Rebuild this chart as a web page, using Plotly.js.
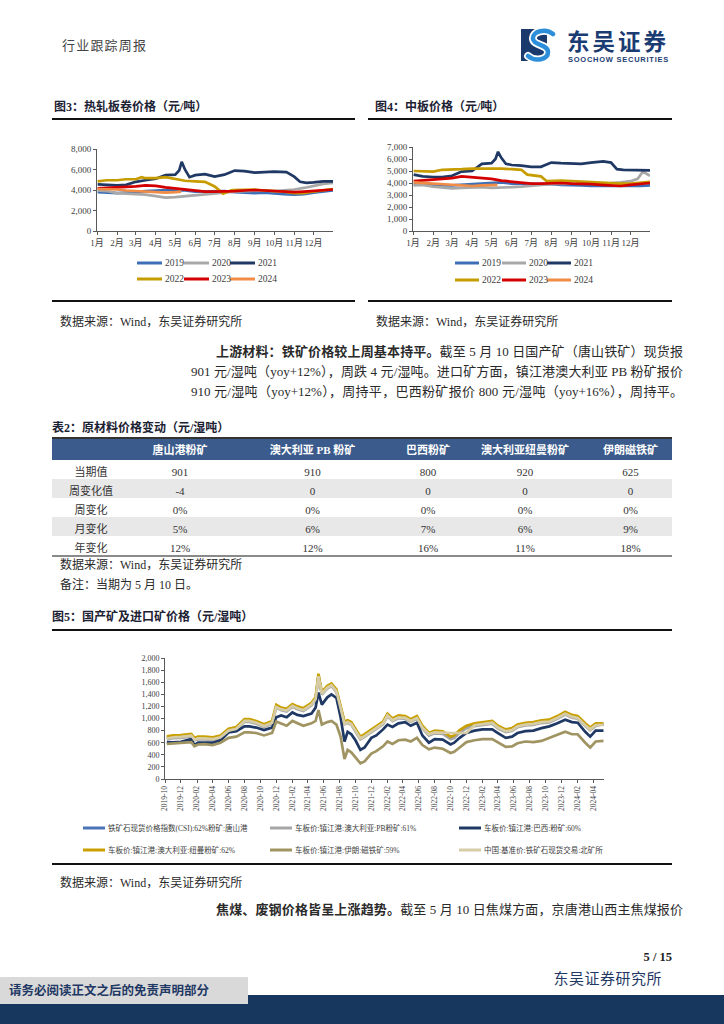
<!DOCTYPE html>
<html>
<head>
<meta charset="utf-8">
<script src="https://cdn.plot.ly/plotly-3.0.1.min.js"></script>
<style>
  body { margin: 0; background: #fff; }
  #page { position: relative; width: 724px; height: 1024px; overflow: hidden; background: #fff;
          font-family: "Liberation Serif", "Noto Sans CJK SC", serif; color: #2a2a2a; }
  #plot { position: absolute; left: 0; top: 0; width: 724px; height: 1024px; }
  .t { position: absolute; white-space: nowrap; line-height: 1; }
  .b { font-weight: 700; }
  .hl { position: absolute; }
  .para { position: absolute; line-height: 1; white-space: nowrap; text-align: justify; text-align-last: justify; font-size: 13px; color: #2a2a2a; }
</style>
</head>
<body>
<div id="page">
  <div id="plot"></div>

  <!-- header -->
  <div class="t" style="left:62px;top:39px;font-size:13px;color:#444;letter-spacing:1.2px;">行业跟踪周报</div>
  <svg style="position:absolute;left:519px;top:27px;" width="46" height="36" viewBox="0 0 46 36">
    <rect x="2" y="2" width="26" height="32" fill="#1a3a6e"/>
    <path d="M34 7 C 27 1, 13 4, 14 12 C 15 19, 29 17, 29 25 C 29 33, 16 35, 9 29" stroke="#ffffff" stroke-width="8" fill="none" stroke-linecap="round"/>
    <path d="M34 7 C 27 1, 13 4, 14 12 C 15 19, 29 17, 29 25 C 29 33, 16 35, 9 29" stroke="#2d8fd9" stroke-width="4.5" fill="none" stroke-linecap="round"/>
  </svg>
  <div class="t b" style="left:567px;top:29px;font-size:22.5px;color:#1b3c73;letter-spacing:3px;font-family:'Noto Sans CJK SC',sans-serif;">东吴证券</div>
  <div class="t b" style="left:568px;top:56px;font-size:7.5px;color:#1b3c73;letter-spacing:0.75px;font-family:'Liberation Sans',sans-serif;">SOOCHOW SECURITIES</div>

  <!-- figure 3 / 4 titles -->
  <div class="t b" style="left:54px;top:101px;font-size:12px;color:#1c2233;">图3：热轧板卷价格（元/吨）</div>
  <div class="hl" style="left:52px;top:118px;width:303px;height:1.5px;background:#111;"></div>
  <div class="t b" style="left:375px;top:101px;font-size:12px;color:#1c2233;">图4：中板价格（元/吨）</div>
  <div class="hl" style="left:368px;top:118px;width:304px;height:1.5px;background:#111;"></div>

  <div class="hl" style="left:52px;top:300px;width:303px;height:1.5px;background:#111;"></div>
  <div class="hl" style="left:368px;top:300px;width:304px;height:1.5px;background:#111;"></div>
  <div class="t" style="left:60px;top:316px;font-size:12px;">数据来源：Wind，东吴证券研究所</div>
  <div class="t" style="left:376px;top:316px;font-size:12px;">数据来源：Wind，东吴证券研究所</div>

  <!-- paragraph -->
  <div class="para" style="left:216px;top:345px;width:467px;"><b>上游材料：铁矿价格较上周基本持平。</b>截至 5 月 10 日国产矿（唐山铁矿）现货报</div>
  <div class="para" style="left:191px;top:365px;width:492px;">901 元/湿吨（yoy+12%），周跌 4 元/湿吨。进口矿方面，镇江港澳大利亚 PB 粉矿报价</div>
  <div class="para" style="left:191px;top:385px;width:492px;">910 元/湿吨（yoy+12%），周持平，巴西粉矿报价 800 元/湿吨（yoy+16%），周持平。</div>

  <!-- table -->
  <div class="t b" style="left:52px;top:422px;font-size:12px;color:#1c2233;">表2：原材料价格变动（元/湿吨）</div>
  <div class="hl" style="left:52px;top:437px;width:620px;height:1.5px;background:#333;"></div>
  <div class="hl" style="left:52px;top:555px;width:620px;height:1.5px;background:#8a8a8a;"></div>
  <div class="t" style="left:60px;top:559px;font-size:12px;">数据来源：Wind，东吴证券研究所</div>
  <div class="t" style="left:60px;top:579px;font-size:12px;">备注：当期为 5 月 10 日。</div>

  <!-- figure 5 -->
  <div class="t b" style="left:52px;top:611px;font-size:12px;color:#1c2233;">图5：国产矿及进口矿价格（元/湿吨）</div>
  <div class="hl" style="left:52px;top:629px;width:620px;height:1.5px;background:#111;"></div>
  <div class="hl" style="left:52px;top:863px;width:620px;height:2px;background:#111;"></div>
  <div class="t" style="left:60px;top:877px;font-size:12px;">数据来源：Wind，东吴证券研究所</div>
  <div class="para" style="left:216px;top:903px;width:467px;"><b>焦煤、废钢价格皆呈上涨趋势。</b>截至 5 月 10 日焦煤方面，京唐港山西主焦煤报价</div>

  <!-- footer -->
  <div class="t b" style="right:52px;top:951px;font-size:12.5px;color:#222;">5 / 15</div>
  <div class="t" style="right:62px;top:972px;font-size:15px;color:#1f3864;letter-spacing:0.5px;">东吴证券研究所</div>
  <div class="hl" style="left:0;top:995px;width:724px;height:29px;background:#17375e;"></div>
  <div class="hl" style="left:0;top:977px;width:248px;height:27px;background:#d9d9d9;"></div>
  <div class="t b" style="left:9px;top:985px;font-size:12.5px;color:#1f3864;">请务必阅读正文之后的免责声明部分</div>
</div>

<script>
// ---------------- data: Fig 3 / Fig 4 ----------------
const monthLabels = ['1月','2月','3月','4月','5月','6月','7月','8月','9月','10月','11月','12月'];
const yearNames = ['2019','2020','2021','2022','2023','2024'];

const semiMonth = ['01-02','01-16','02-01','02-15','03-01','03-16','04-01','04-16','05-01','05-16','06-01','06-16','07-01','07-16','08-01','08-16','09-01','09-16','10-01','10-16','11-01','11-16','12-01','12-16','12-31'];
const dates2021 = ['01-02','01-16','02-01','02-15','03-01','03-16','04-01','04-16','05-01','05-07','05-11','05-16','05-23','06-01','06-16','07-01','07-16','08-01','08-16','09-01','09-16','10-01','10-20','11-01','11-10','11-20','12-01','12-16','12-31'];
const dates2024 = ['01-02','01-16','02-01','02-15','03-01','03-16','04-01','04-16','05-01','05-10'];

// hot-rolled coil (元/吨)
const hrcDates2022 = ['01-02','01-16','02-01','02-15','03-01','03-10','03-16','04-01','04-16','05-01','05-16','06-01','06-16','07-01','07-14','07-28','08-16','09-01','09-16','10-01','10-16','11-01','11-16','12-01','12-16','12-31'];
const hrc2019 = [3800,3750,3700,3750,3850,3900,3950,4000,3950,3950,3850,3850,3850,3900,3800,3750,3700,3750,3650,3600,3550,3600,3750,3850,3950];
const hrc2020 = [3950,3900,3700,3650,3600,3550,3400,3250,3300,3400,3500,3600,3700,3800,3850,3900,3950,3950,3900,3950,4050,4200,4400,4600,4700];
const hrc2021 = [4550,4500,4450,4500,4800,4950,5100,5450,5500,5900,6750,6000,5250,5450,5550,5300,5500,5900,5850,5700,5750,5800,5750,5300,4800,4700,4750,4850,4850];
const hrc2022 = [4850,4950,4950,5050,5050,5250,5150,5150,5250,5100,4900,4850,4800,4350,3650,4000,4000,4050,3950,3900,3850,3700,3700,3850,3950,4100];
const hrc2023 = [4150,4200,4200,4250,4350,4450,4400,4250,4150,4000,3950,3850,3850,3850,3900,3950,4000,3950,3900,3850,3800,3850,3900,4000,4050];
const hrc2024 = [4100,4100,4050,3950,3900,3850,3750,3750,3800,3850];

// medium plate (元/吨)
const plateDates2020 = ['01-02','01-16','02-01','02-15','03-01','03-16','04-01','04-16','05-01','05-16','06-01','06-16','07-01','07-16','08-01','08-16','09-01','09-16','10-01','10-16','11-01','11-16','12-01','12-12','12-20','12-31'];
const plateDates2022 = ['01-02','01-16','02-01','02-15','03-01','03-16','04-01','04-16','05-01','05-16','06-01','06-16','06-25','07-05','07-16','07-25','08-16','09-01','09-16','10-01','10-16','11-01','11-16','12-01','12-16','12-31'];
const plate2019 = [3900,3850,3850,3800,3800,3850,3900,4000,4050,4050,3950,3950,3900,3900,3900,3850,3850,3800,3750,3750,3700,3700,3700,3750,3800];
const plate2020 = [3800,3850,3700,3600,3550,3600,3650,3650,3600,3600,3650,3700,3800,3850,3900,3950,3950,3950,3950,3950,4000,4050,4150,4350,4950,4600];
const plate2021 = [4700,4550,4500,4500,4600,4950,5000,5600,5650,6000,6600,6100,5600,5500,5450,5350,5350,5700,5650,5600,5600,5700,5800,5700,5150,5100,5100,5050,5050];
const plate2022 = [5000,4950,4950,5100,5100,5150,5200,5200,5250,5200,5150,5100,4700,4650,4550,4150,4200,4150,4100,4050,4050,4000,3950,3950,4050,4100];
const plate2023 = [4150,4200,4250,4350,4400,4550,4500,4400,4350,4200,4100,4000,3950,3950,4000,4000,3950,3950,3900,3850,3800,3750,3850,3950,4000];
const plate2024 = [4050,4000,3950,3900,3850,3800,3750,3800,3800,3850];

// ---------------- data: Table 2 ----------------
const tableColumns = ['唐山港粉矿','澳大利亚 PB 粉矿','巴西粉矿','澳大利亚纽曼粉矿','伊朗磁铁矿'];
const tableRows = ['当期值','周变化值','周变化','月变化','年变化'];
const colTangshan = ['901','-4','0%','5%','12%'];
const colPB = ['910','0','0%','6%','12%'];
const colBrazil = ['800','0','0%','7%','16%'];
const colNewman = ['920','0','0%','6%','11%'];
const colIran = ['625','0','0%','9%','18%'];

// ---------------- data: Fig 5 (元/湿吨) ----------------
const fig5Names = ['铁矿石现货价格指数(CSI):62%粉矿:唐山港','车板价:镇江港:澳大利亚:PB粉矿:61%','车板价:镇江港:巴西:粉矿:60%',
                   '车板价:镇江港:澳大利亚:纽曼粉矿:62%','车板价:镇江港:伊朗:磁铁矿:59%','中国:基准价:铁矿石现货交易:北矿所'];
const fig5TickLabels = ['2019-10','2019-12','2020-02','2020-04','2020-06','2020-08','2020-10','2020-12','2021-02','2021-04','2021-06','2021-08','2021-10','2021-12',
                        '2022-02','2022-04','2022-06','2022-08','2022-10','2022-12','2023-02','2023-04','2023-06','2023-08','2023-10','2023-12','2024-02','2024-04'];
const fig5Dates = ['2019-10-08','2019-11-01','2019-12-01','2020-01-10','2020-01-22','2020-02-05','2020-03-01','2020-04-01','2020-05-01','2020-06-01',
  '2020-07-01','2020-08-01','2020-08-20','2020-09-15','2020-10-15','2020-11-15','2020-12-01','2020-12-20','2021-01-10','2021-02-01',
  '2021-02-20','2021-03-15','2021-04-15','2021-05-01','2021-05-12','2021-05-25','2021-06-15','2021-07-01','2021-07-20','2021-08-05',
  '2021-08-20','2021-09-01','2021-09-15','2021-10-01','2021-10-20','2021-11-05','2021-12-01','2021-12-20','2022-01-15','2022-02-01',
  '2022-02-20','2022-03-15','2022-04-10','2022-05-01','2022-05-25','2022-06-15','2022-07-10','2022-08-01','2022-09-01','2022-10-01',
  '2022-10-15','2022-11-05','2022-12-01','2023-01-01','2023-02-01','2023-03-10','2023-04-01','2023-05-01','2023-05-25','2023-06-15',
  '2023-07-15','2023-08-15','2023-09-15','2023-10-15','2023-11-15','2023-12-15','2024-01-10','2024-02-01','2024-03-01','2024-03-20',
  '2024-04-10','2024-05-10'];
const csiTangshan = [680,695,700,720,655,675,675,665,695,805,835,965,965,935,880,935,1200,1155,1135,1215,1175,1145,1235,1325,1710,1415,1515,1555,1455,1155,
  925,945,915,805,675,715,795,855,925,1055,975,1025,1015,965,1015,855,735,775,765,675,695,785,855,895,915,935,855,795,815,875,
  905,915,945,955,1015,1085,1035,1015,895,825,895,901];
const pbFines = [660,675,680,700,640,655,655,645,675,785,815,945,945,915,860,915,1180,1135,1115,1195,1155,1125,1215,1305,1690,1395,1495,1535,1435,1135,
  905,925,895,785,655,695,775,835,905,1035,955,1005,995,945,995,835,715,755,745,655,675,765,835,875,895,915,835,775,795,855,
  885,895,925,935,995,1065,1015,995,875,805,875,910];
const brazilFines = [610,605,615,660,560,600,600,600,640,770,790,870,870,850,810,850,1020,1050,1020,1100,1060,1040,1080,1180,1430,1230,1350,1400,1340,1020,
  620,780,740,640,480,520,680,720,820,900,860,920,940,880,930,720,600,660,650,570,600,680,760,800,820,820,760,680,700,760,
  790,800,840,870,920,980,940,930,780,700,800,800];
const newmanFines = [705,720,725,745,680,700,700,690,720,830,860,990,990,960,905,960,1225,1180,1160,1240,1200,1170,1260,1350,1740,1440,1540,1580,1480,1180,
  950,970,940,830,700,740,820,880,950,1080,1000,1050,1040,990,1040,880,760,800,790,700,720,810,880,920,940,960,880,820,840,900,
  930,940,970,980,1040,1110,1060,1040,920,850,920,920];
const iranMagnetite = [580,585,590,610,540,570,575,560,600,680,700,770,770,760,720,760,950,920,880,960,920,880,920,960,1140,900,940,960,900,700,
  330,480,440,360,260,290,420,460,540,620,580,640,650,620,680,560,490,520,500,430,450,520,610,640,660,660,600,530,540,590,
  620,610,630,680,720,780,740,740,600,520,620,630];
const bksBenchmark = [670,690,695,715,650,670,670,660,690,800,830,960,960,930,875,930,1190,1150,1130,1210,1170,1140,1230,1320,1700,1410,1510,1550,1450,1150,
  910,940,910,800,670,710,790,850,920,1050,970,1020,1010,960,1010,850,740,770,760,760,760,760,760,890,910,930,850,790,810,870,
  900,910,940,950,1010,1080,1030,1010,890,820,890,895];

// ---------------- styles ----------------
const W = 724, H = 1024;
const FONT = '"Liberation Serif", "Noto Sans CJK SC", serif';
const yearColors = ['#3d6fb6', '#a8a8a8', '#1f3864', '#c79c00', '#d40000', '#f08c45'];
const fig5Colors = ['#4a74b8', '#a6a6a6', '#1f3864', '#c9a000', '#a09462', '#d6cda6'];
const px = v => v / W;
const py = v => 1 - v / H;

const hrcSeries = [[semiMonth,hrc2019],[semiMonth,hrc2020],[dates2021,hrc2021],[hrcDates2022,hrc2022],[semiMonth,hrc2023],[dates2024,hrc2024]];
const plateSeries = [[semiMonth,plate2019],[plateDates2020,plate2020],[dates2021,plate2021],[plateDates2022,plate2022],[semiMonth,plate2023],[dates2024,plate2024]];
const fig5Series = [csiTangshan, pbFines, brazilFines, newmanFines, iranMagnetite, bksBenchmark];

const traces = [];
hrcSeries.forEach((s, i) => traces.push({
  type: 'scatter', mode: 'lines', x: s[0].map(d => '2000-' + d), y: s[1], xaxis: 'x', yaxis: 'y',
  line: { color: yearColors[i], width: 2.7 }, name: yearNames[i], showlegend: false, hoverinfo: 'skip'
}));
plateSeries.forEach((s, i) => traces.push({
  type: 'scatter', mode: 'lines', x: s[0].map(d => '2000-' + d), y: s[1], xaxis: 'x2', yaxis: 'y2',
  line: { color: yearColors[i], width: 2.7 }, name: yearNames[i], showlegend: false, hoverinfo: 'skip'
}));
fig5Series.forEach((s, i) => traces.push({
  type: 'scatter', mode: 'lines', x: fig5Dates, y: s, xaxis: 'x3', yaxis: 'y3',
  line: { color: fig5Colors[i], width: 2.7 }, name: fig5Names[i], showlegend: false, hoverinfo: 'skip'
}));

traces.push({
  type: 'table',
  domain: { x: [px(52), px(672)], y: [py(566), py(438)] },
  columnwidth: [78, 100, 165, 66, 128, 83],
  header: {
    values: [''].concat(tableColumns),
    fill: { color: '#3b5b8c' }, line: { width: 0, color: 'rgba(0,0,0,0)' },
    font: { family: FONT, size: 11, color: '#ffffff', weight: 700 }, align: 'center', height: 22
  },
  cells: {
    values: [tableRows, colTangshan, colPB, colBrazil, colNewman, colIran],
    fill: { color: [['#ffffff', '#e8e8e8', '#ffffff', '#e8e8e8', '#ffffff']] },
    line: { width: 0, color: 'rgba(0,0,0,0)' },
    font: { family: FONT, size: 11, color: '#333333' }, align: 'center', height: 19
  }
});

const monthTicks = monthLabels.map((m, i) => '2000-' + String(i + 1).padStart(2, '0') + '-01');
const axisCommon = {
  showline: true, linecolor: '#595959', linewidth: 1, showgrid: false, zeroline: false,
  ticks: 'outside', ticklen: 3, tickcolor: '#595959', tickfont: { family: FONT, size: 9, color: '#404040' }, fixedrange: true
};

const shapes = [], annotations = [];
function legendItem(x, y, len, color, text, size) {
  shapes.push({ type: 'line', xref: 'paper', yref: 'paper', x0: px(x), x1: px(x + len), y0: py(y), y1: py(y),
                line: { color: color, width: 3 } });
  annotations.push({ xref: 'paper', yref: 'paper', x: px(x + len + 1), y: py(y), xanchor: 'left', yanchor: 'middle',
                     showarrow: false, text: text, font: { family: FONT, size: size, color: '#404040' } });
}
const legCols3 = [137, 184, 230], legCols4 = [455, 502, 547];
yearNames.forEach((n, i) => {
  const row = Math.floor(i / 3), col = i % 3;
  legendItem(legCols3[col], 263 + row * 16, 25, yearColors[i], n, 9.5);
  legendItem(legCols4[col], 263 + row * 17, 24, yearColors[i], n, 9.5);
});
const legCols5 = [83, 270, 459];
fig5Names.forEach((n, i) => {
  const row = Math.floor(i / 3), col = i % 3;
  legendItem(legCols5[col], 828 + row * 22, 22, fig5Colors[i], n, 7.5);
});

const layout = {
  width: W, height: H, margin: { l: 0, r: 0, t: 0, b: 0 },
  paper_bgcolor: 'rgba(0,0,0,0)', plot_bgcolor: 'rgba(0,0,0,0)',
  font: { family: FONT, size: 9, color: '#404040' }, showlegend: false,
  xaxis: Object.assign({}, axisCommon, { domain: [px(97), px(333)], anchor: 'y', type: 'date',
    range: ['2000-01-01', '2000-12-31'], tickvals: monthTicks, ticktext: monthLabels, tickangle: 0 }),
  yaxis: Object.assign({}, axisCommon, { domain: [py(231), py(149)], anchor: 'x', range: [0, 8000], dtick: 2000, tickformat: ',d' }),
  xaxis2: Object.assign({}, axisCommon, { domain: [px(413), px(650)], anchor: 'y2', type: 'date',
    range: ['2000-01-01', '2000-12-31'], tickvals: monthTicks, ticktext: monthLabels, tickangle: 0 }),
  yaxis2: Object.assign({}, axisCommon, { domain: [py(231), py(147)], anchor: 'x2', range: [0, 7000], dtick: 1000, tickformat: ',d' }),
  xaxis3: Object.assign({}, axisCommon, { domain: [px(165), px(604)], anchor: 'y3', type: 'date',
    range: ['2019-10-01', '2024-05-12'], tickvals: fig5TickLabels.map(t => t + '-01'), ticktext: fig5TickLabels,
    tickangle: -90, tickfont: { family: FONT, size: 7.5, color: '#404040' } }),
  yaxis3: Object.assign({}, axisCommon, { domain: [py(779), py(658)], anchor: 'x3', range: [0, 2000], dtick: 200, tickformat: ',d',
    tickfont: { family: FONT, size: 8, color: '#404040' } }),
  shapes: shapes, annotations: annotations
};

Plotly.newPlot('plot', traces, layout, { staticPlot: true, displayModeBar: false });
</script>
</body>
</html>
